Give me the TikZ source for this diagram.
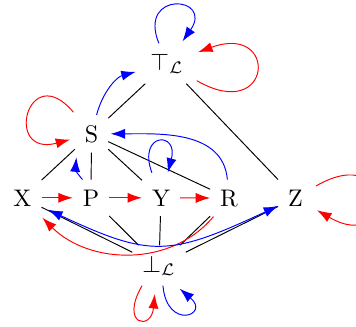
\documentclass[tikz,border=0pt]{standalone}
\usetikzlibrary{arrows.meta}
\begin{document}
\begin{tikzpicture}[x=0.416667pt,y=0.416667pt,
  lbl/.style={inner sep=4pt,anchor=base},
  arr/.style={-{Latex[length=6pt,width=4.2pt]}},
  darr/.style={{Latex[length=6pt,width=4.2pt]}-{Latex[length=6pt,width=4.2pt]}},
  rd/.style={red,arr},
  bl/.style={blue,arr},
  hasse/.style={black}]
\useasboundingbox (0,0) rectangle (356,326);
% nodes (baselines)
\node[lbl] (T) at (167,256) {$\top_{\mathcal{L}}$};
\node[lbl] (S) at (91.5,184) {S};
\node[lbl] (X) at (22.5,120) {X};
\node[lbl] (P) at (91,120) {P};
\node[lbl] (Y) at (161,120) {Y};
\node[lbl] (R) at (229,120) {R};
\node[lbl] (Z) at (295.5,120) {Z};
\node[lbl] (B) at (159,54) {$\bot_{\mathcal{L}}$};
% Hasse lines
\draw[hasse] (T) -- (S);
\draw[hasse] (T) -- (Z);
\draw[hasse] (S) -- (X);
\draw[hasse] (S) -- (P);
\draw[hasse] (S) -- (Y);
\draw[hasse] (S) -- (R);
\draw[hasse] (X) -- (B);
\draw[hasse] (P) -- (B);
\draw[hasse] (Y) -- (B);
\draw[hasse] (R) -- (B);
\draw[hasse] (Z) -- (B);
% red arrows
\draw[rd] (X) -- (P);
\draw[rd] (P) -- (Y);
\draw[rd] (Y) -- (R);
\draw[rd,shorten >=1pt] (R) to[out=-130,in=-45] (X);
\draw[rd,shorten <=1.5pt,shorten >=2pt] (T) to[out=-30,in=20,distance=38pt] (T);
\draw[rd,shorten <=1.5pt,shorten >=2pt] (S) to[out=130,in=195,distance=31pt] (S);
\draw[rd,shorten <=1.5pt,shorten >=2pt] (Z) to[out=30,in=-30,distance=40pt] (Z);
\draw[rd,shorten >=3.5pt] (B.-130) to[out=-120,in=-95,distance=19pt] (B.-100);
% blue arrows
\draw[bl,shorten >=1pt] (T) to[out=112,in=55,distance=24pt] (T);
\draw[bl,shorten >=2pt] (S) to[out=75,in=195] (T);
\draw[bl,shorten >=2pt] (P.115) to[out=130,in=-95,looseness=1.5] (S.-128);
\draw[bl,shorten >=1pt] (R) to[out=95,in=0] (S);
\draw[bl,shorten <=3pt,shorten >=3pt] (Y) to[out=110,in=75,distance=21pt] (Y);
\draw[blue,darr,shorten <=3pt] (X) to[out=-25,in=-155,looseness=1.3] (Z);
\draw[bl,shorten >=2pt] (B.-79) to[out=-85,in=-40,distance=19pt] (B.-50);
\end{tikzpicture}
\end{document}
